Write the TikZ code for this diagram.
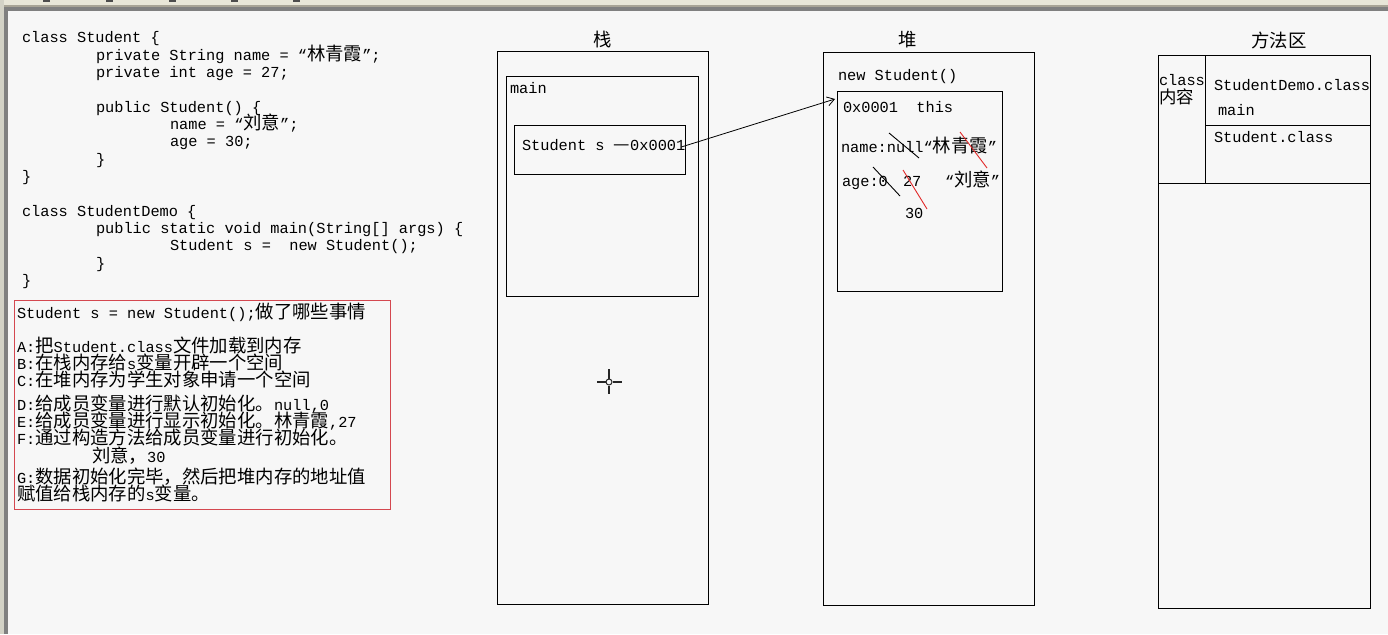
\documentclass[tikz,border=0pt]{standalone}
\usepackage{fontspec}
\setmonofont{Liberation Mono}
\newfontfamily\cjk[Scale=1.2]{Noto Sans CJK SC}
\usetikzlibrary{arrows.meta}
\newcommand\zh[1]{{\cjk #1}}
\newcommand\codesize{\fontsize{15.3}{17}\selectfont\ttfamily}
\definecolor{bgcol}{RGB}{247,247,247}
\definecolor{barcol}{RGB}{232,230,216}
\definecolor{tancol}{RGB}{168,164,150}
\definecolor{chromegray}{RGB}{128,128,128}
\definecolor{boxred}{RGB}{212,72,80}
\definecolor{strikered}{RGB}{226,40,40}
\begin{document}
\begin{tikzpicture}[x=1pt,y=-1pt,
  txt/.style={anchor=base west, inner sep=0pt, outer sep=0pt, font=\codesize, text=black},
  box/.style={draw=black, line width=1pt, inner sep=0pt, outer sep=0pt},
  title/.style={inner sep=0pt, font=\codesize},
  strike/.style={line width=0.9pt},
]
\useasboundingbox (0,0) rectangle (1388,634);
% window chrome
\fill[bgcol] (0,0) rectangle (1388,634);
\fill[barcol] (0,0) rectangle (1388,5);
\fill[tancol] (0,5) rectangle (1388,7);
\fill[chromegray] (0,7) rectangle (1388,11);
\fill[barcol!80!gray] (0,0) rectangle (4,634);
\fill[chromegray] (4,7) rectangle (8,634);
\foreach \tx in {43,106,169,231,293}{\fill[black!70] (\tx,0) rectangle (\tx+7,1.8);}

% code listing
\node[txt] (c1) at (22,43) {class Student \{};
\node[txt] (c2) at (96,60.3) {private String name = “\zh{林青霞}”;};
\node[txt] (c3) at (96,77.6) {private int age = 27;};
\node[txt] (c4) at (96,112.2) {public Student() \{};
\node[txt] (c5) at (170,129.5) {name = “\zh{刘意}”;};
\node[txt] (c6) at (170,146.8) {age = 30;};
\node[txt] (c7) at (96,164) {\}};
\node[txt] (c8) at (22,181.3) {\}};
\node[txt] (c9) at (22,216) {class StudentDemo \{};
\node[txt] (c10) at (96,233.3) {public static void main(String[] args) \{};
\node[txt] (c11) at (170,250.6) {Student s = \ new Student();};
\node[txt] (c12) at (96,268) {\}};
\node[txt] (c13) at (22,285.3) {\}};

% red box with steps
\node[box, draw=boxred, minimum width=376pt, minimum height=209pt] (steps) at (202,404.5) {};
\node[txt] (s0) at (17,318) {Student s = new Student();\zh{做了哪些事情}};
\node[txt] (sA) at (17,352) {A:\zh{把}Student.class\zh{文件加载到内存}};
\node[txt] (sB) at (17,369) {B:\zh{在栈内存给}s\zh{变量开辟一个空间}};
\node[txt] (sC) at (17,386) {C:\zh{在堆内存为学生对象申请一个空间}};
\node[txt] (sD) at (17,410) {D:\zh{给成员变量进行默认初始化。}null,0};
\node[txt] (sE) at (17,427) {E:\zh{给成员变量进行显示初始化。林青霞},27};
\node[txt] (sF) at (17,444) {F:\zh{通过构造方法给成员变量进行初始化。}};
\node[txt] (sF2) at (92,462) {\zh{刘意，}30};
\node[txt] (sG) at (17,483) {G:\zh{数据初始化完毕，然后把堆内存的地址值}};
\node[txt] (sG2) at (17,500) {\zh{赋值给栈内存的}s\zh{变量。}};

% stack
\node[title] (stacklbl) at (603,40) {\zh{栈}};
\node[box, minimum width=211pt, minimum height=552pt] (stack) at (602.5,328) {};
\node[box, minimum width=192pt, minimum height=220pt] (mainframe) at (602,186) {};
\node[txt] (maintxt) at (510,93) {main};
\node[box, minimum width=171pt, minimum height=49pt] (varbox) at (599.5,149.5) {};
\node[txt] (vartxt) at (522,150) {Student s \zh{—}0x0001};

% heap
\node[title] (heaplbl) at (908,40) {\zh{堆}};
\node[box, minimum width=211pt, minimum height=552pt] (heap) at (928.5,329) {};
\node[txt] (newtxt) at (838,80) {new Student()};
\node[box, minimum width=165pt, minimum height=200pt] (heapin) at (919.5,191) {};
\node[txt] (addr) at (843,112) {0x0001\ \ this};
\node[txt] (nametxt) at (841,152) {name:null“\zh{林青霞}”};
\node[txt] (agetxt) at (842,186) {age:0};
\node[txt] (age27) at (903,186) {27};
\node[txt] (agelyi) at (945,186) {“\zh{刘意}”};
\node[txt] (age30) at (905,218) {30};
\draw[strike] (889,133) -- (919,158);
\draw[strike, strikered] (960,132) -- (987,168);
\draw[strike] (873,167) -- (900,196);
\draw[strike, strikered] (903,170) -- (927,209);

% arrow from stack variable to heap object
\draw[line width=0.8pt, -{Straight Barb[length=7pt,width=9pt]}]
  ([xshift=-4pt,yshift=3pt]vartxt.base east) -- ([xshift=-2pt,yshift=-8pt]heapin.north west);

% method area
\node[title] (methlbl) at (1279,40) {\zh{方法区}};
\node[box, minimum width=212pt, minimum height=552pt] (method) at (1264,332) {};
\draw[line width=1pt] (1205,56) -- (1205,184);
\draw[line width=1pt] (1158,183) -- (1371,183);
\draw[line width=1pt] (1205,125) -- (1370,125);
\node[txt] (clstxt) at (1159,85) {class};
\node[txt] (cnttxt) at (1159,103) {\zh{\fontsize{14.5}{15}\selectfont 内容}};
\node[txt] (demotxt) at (1214,90) {StudentDemo.class};
\node[txt] (mmain) at (1218,115) {main};
\node[txt] (stutxt) at (1214,142) {Student.class};

% cursor crosshair
\draw[line width=1.2pt, black!85] (609,369) -- (609,378.5) (609,385.5) -- (609,394)
  (597,382) -- (605.5,382) (612.5,382) -- (622,382);
\draw[line width=1pt, black!85] (609,382) circle (3);
\end{tikzpicture}
\end{document}
